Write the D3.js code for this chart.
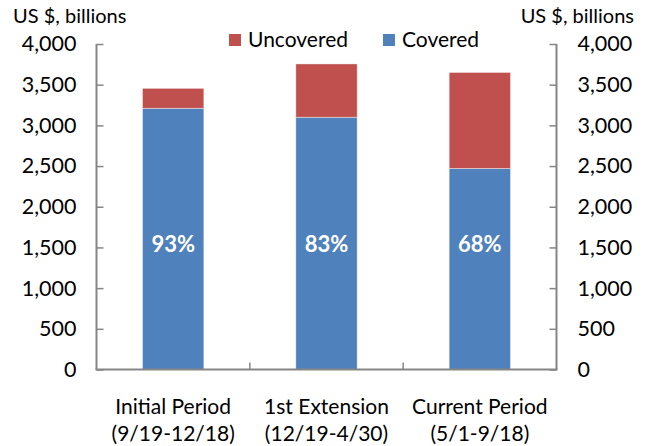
<!DOCTYPE html>
<html>
<head>
<meta charset="utf-8">
<script src="https://cdn.jsdelivr.net/npm/d3@7"></script>
<style>
  html, body { margin: 0; padding: 0; background: #fff; }
  svg { display: block; font-family: Lato, "Open Sans", sans-serif; }
</style>
</head>
<body>
<svg id="chart" width="648" height="446"></svg>
<script>
const categories = ["Initial Period", "1st Extension", "Current Period"];
const categoryDates = ["(9/19-12/18)", "(12/19-4/30)", "(5/1-9/18)"];
const covered = [3210, 3100, 2470];
const uncovered = [245, 655, 1180];
const coveredShare = ["93%", "83%", "68%"];
const yTicks = [0, 500, 1000, 1500, 2000, 2500, 3000, 3500, 4000];
const seriesNames = ["Uncovered", "Covered"];
const colors = { Covered: "#4F81BD", Uncovered: "#C0504D" };

const svg = d3.select("#chart");
const plotLeft = 96.5, plotRight = 556.5, plotTop = 44, plotBottom = 369.5;
const axisColor = "#868686";

const x = d3.scaleBand().domain(categories).range([plotLeft, plotRight]).paddingInner(0.6).paddingOuter(0.3);
const xb = d3.scaleBand().domain(categories).range([plotLeft, plotRight]);
const y = d3.scaleLinear().domain([0, 4000]).range([plotBottom, plotTop]);

const rows = categories.map((c, i) => ({ cat: c, Covered: covered[i], Uncovered: uncovered[i] }));
const stack = d3.stack().keys(["Covered", "Uncovered"])(rows);

svg.append("g").selectAll("g").data(stack).join("g")
  .attr("fill", d => colors[d.key])
  .selectAll("rect").data(d => d).join("rect")
  .attr("x", d => x(d.data.cat))
  .attr("width", x.bandwidth())
  .attr("y", d => y(d[1]))
  .attr("height", d => y(d[0]) - y(d[1]))
  .attr("stroke", "#ffffff")
  .attr("stroke-opacity", 0.5)
  .attr("stroke-width", 0.8);

// percent labels
svg.append("g").selectAll("text").data(categories).join("text")
  .attr("x", d => x(d) + x.bandwidth() / 2)
  .attr("y", 252)
  .attr("text-anchor", "middle")
  .attr("fill", "#fff")
  .attr("font-weight", "bold")
  .attr("font-size", 22)
  .text((d, i) => coveredShare[i]);

// left and right axes
const yAxisL = d3.axisLeft(y).tickValues(yTicks).tickSize(-7).tickPadding(20).tickFormat(d3.format(","));
const gL = svg.append("g").attr("transform", `translate(${plotLeft},0)`).call(yAxisL);
const yAxisR = d3.axisRight(y).tickValues(yTicks).tickSize(-7).tickPadding(20).tickFormat(d3.format(","));
const gR = svg.append("g").attr("transform", `translate(${plotRight},0)`).call(yAxisR);
[gL, gR].forEach(g => {
  g.select(".domain").attr("stroke", axisColor).attr("stroke-width", 2).attr("d", `M0,${plotTop}V${plotBottom}`);
  g.selectAll(".tick line").attr("stroke", axisColor).attr("stroke-width", 1.5);
  g.selectAll(".tick text").attr("font-size", 21.5).attr("fill", "#000").attr("font-family", "Lato, sans-serif");
});
gL.selectAll(".tick text").attr("x", -20);
gR.selectAll(".tick text").attr("x", 21);

// x axis
const xAxis = d3.axisBottom(xb).tickSize(0).tickFormat("");
const gX = svg.append("g").attr("transform", `translate(0,${plotBottom})`).call(xAxis);
gX.select(".domain").attr("stroke", axisColor).attr("stroke-width", 2).attr("d", `M${plotLeft - 1},0H${plotRight + 1}`);
// category separator ticks (inward)
svg.append("g").selectAll("line").data(categories.slice(1)).join("line")
  .attr("x1", d => xb(d)).attr("x2", d => xb(d))
  .attr("y1", plotBottom).attr("y2", plotBottom - 7)
  .attr("stroke", axisColor).attr("stroke-width", 1.5);

// category labels
const lab = svg.append("g").selectAll("text").data(categories).join("text")
  .attr("text-anchor", "middle")
  .attr("font-size", 21)
  .attr("fill", "#000");
lab.append("tspan").attr("x", d => xb(d) + xb.bandwidth() / 2).attr("y", 414).text(d => d);
lab.append("tspan").attr("x", d => xb(d) + xb.bandwidth() / 2).attr("y", 441).text((d, i) => categoryDates[i]);

// unit titles
svg.append("text").attr("x", 13).attr("y", 23).attr("font-size", 20).text("US $, billions");
svg.append("text").attr("x", 634).attr("y", 23).attr("text-anchor", "end").attr("font-size", 20).text("US $, billions");

// legend
const lg = svg.append("g").selectAll("g").data(seriesNames).join("g")
  .attr("transform", (d, i) => `translate(${i === 0 ? 229 : 383},34)`);
lg.append("rect").attr("width", 12).attr("height", 12).attr("fill", d => colors[d]);
lg.append("text").attr("x", 19).attr("y", 13).attr("font-size", 21).text(d => d);
</script>
</body>
</html>
